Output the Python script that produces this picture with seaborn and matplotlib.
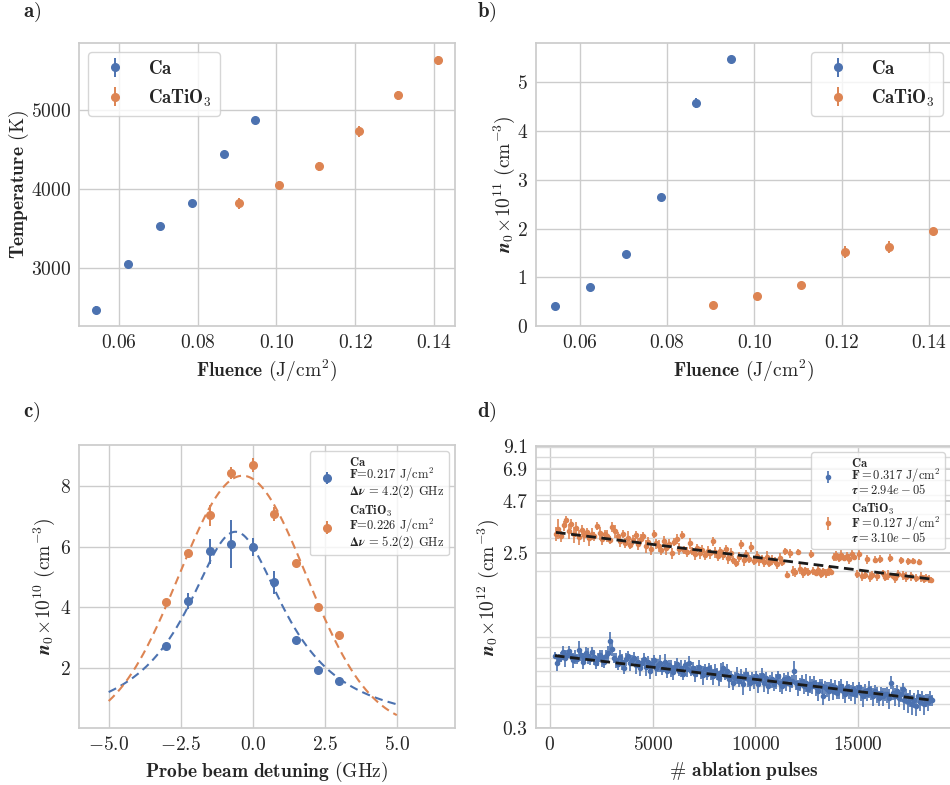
import numpy as np
import pandas as pd
import matplotlib
matplotlib.use("Agg")
import matplotlib.pyplot as plt
import matplotlib.ticker as mticker
import seaborn as sns

# ---------------- data ----------------
# Panels a, b: fluence scans
fluence_ca = [0.0543, 0.0624, 0.0705, 0.0785, 0.0866, 0.0946]
fluence_cto = [0.0905, 0.1006, 0.1107, 0.1208, 0.1308, 0.1409]
temp_ca = [2475, 3051, 3534, 3818, 4445, 4873]
temp_ca_err = [45, 35, 40, 30, 30, 25]
temp_cto = [3818, 4051, 4288, 4729, 5186, 5631]
temp_cto_err = [75, 55, 60, 75, 60, 55]
dens_ca = [0.41, 0.80, 1.48, 2.65, 4.57, 5.49]
dens_ca_err = [0.03, 0.04, 0.05, 0.06, 0.10, 0.06]
dens_cto = [0.43, 0.625, 0.845, 1.52, 1.62, 1.94]
dens_cto_err = [0.03, 0.04, 0.05, 0.12, 0.13, 0.05]

# Panel c: probe detuning spectra
detuning = [-3.0, -2.25, -1.5, -0.75, 0.0, 0.75, 1.5, 2.25, 3.0]
spec_ca = [2.72, 4.22, 5.85, 6.10, 5.99, 4.83, 2.94, 1.92, 1.58]
spec_ca_err = [0.10, 0.26, 0.41, 0.79, 0.30, 0.38, 0.10, 0.08, 0.08]
spec_cto = [4.17, 5.80, 7.04, 8.45, 8.70, 7.10, 5.47, 4.03, 3.09]
spec_cto_err = [0.10, 0.10, 0.35, 0.20, 0.24, 0.23, 0.08, 0.08, 0.08]
# fitted line shapes (Lorentzian for Ca, Gaussian for CaTiO3), FWHM in GHz
ca_fit_amp, ca_fit_center, ca_fit_fwhm = 6.5, -0.6, 4.2
cto_fit_amp, cto_fit_center, cto_fit_fwhm = 8.35, -0.35, 5.2
fit_range = (-5.0, 5.0)

# Panel d: density vs number of ablation pulses
ca_pulses = np.arange(250, 18587, 96)
ca_density = [
    0.72, 0.66, 0.69, 0.71, 0.75, 0.70, 0.73, 0.76, 0.72, 0.68,
    0.71, 0.69, 0.77, 0.73, 0.67, 0.70, 0.74, 0.72, 0.69, 0.75,
    0.71, 0.66, 0.69, 0.73, 0.70, 0.67, 0.72, 0.74, 0.86, 0.78,
    0.70, 0.68, 0.65, 0.71, 0.67, 0.62, 0.69, 0.72, 0.66, 0.68,
    0.70, 0.64, 0.67, 0.62, 0.66, 0.69, 0.63, 0.67, 0.60, 0.65,
    0.68, 0.62, 0.64, 0.66, 0.61, 0.63, 0.67, 0.60, 0.64, 0.62,
    0.59, 0.63, 0.65, 0.60, 0.62, 0.58, 0.64, 0.61, 0.66, 0.60,
    0.62, 0.58, 0.60, 0.63, 0.59, 0.57, 0.61, 0.58, 0.62, 0.59,
    0.56, 0.60, 0.58, 0.55, 0.59, 0.62, 0.57, 0.60, 0.54, 0.56,
    0.52, 0.55, 0.57, 0.53, 0.56, 0.51, 0.55, 0.58, 0.54, 0.52,
    0.55, 0.53, 0.56, 0.51, 0.54, 0.57, 0.52, 0.55, 0.50, 0.53,
    0.54, 0.51, 0.53, 0.56, 0.52, 0.50, 0.54, 0.52, 0.55, 0.51,
    0.53, 0.60, 0.52, 0.49, 0.51, 0.53, 0.50, 0.52, 0.48, 0.51,
    0.50, 0.52, 0.49, 0.47, 0.51, 0.50, 0.44, 0.49, 0.48, 0.47,
    0.50, 0.47, 0.49, 0.46, 0.48, 0.50, 0.47, 0.45, 0.49, 0.47,
    0.46, 0.48, 0.45, 0.47, 0.49, 0.46, 0.44, 0.47, 0.45, 0.48,
    0.46, 0.44, 0.47, 0.45, 0.43, 0.46, 0.44, 0.45, 0.45, 0.43,
    0.52, 0.46, 0.44, 0.47, 0.43, 0.45, 0.48, 0.42, 0.44, 0.41,
    0.43, 0.40, 0.42, 0.39, 0.44, 0.41, 0.43, 0.40, 0.42, 0.41,
    0.43, 0.42,
]
ca_err_pct = [
    4, 9, 7, 6, 8, 10, 6, 7, 5, 9,
    8, 6, 11, 7, 9, 6, 8, 10, 7, 6,
    9, 7, 8, 6, 10, 8, 7, 9, 12, 8,
    6, 9, 7, 8, 10, 7, 8, 6, 9, 7,
    8, 10, 7, 9, 6, 8, 11, 7, 9, 8,
    7, 9, 8, 10, 7, 6, 9, 8, 7, 10,
    9, 7, 8, 6, 10, 8, 7, 9, 8, 6,
    8, 10, 7, 9, 8, 11, 7, 8, 6, 9,
    10, 8, 7, 9, 11, 8, 6, 9, 10, 7,
    9, 8, 10, 7, 9, 12, 8, 7, 9, 10,
    8, 9, 7, 10, 8, 9, 11, 7, 9, 8,
    10, 8, 9, 7, 11, 9, 8, 10, 7, 9,
    8, 13, 9, 10, 8, 7, 9, 11, 8, 10,
    9, 8, 10, 11, 7, 9, 10, 8, 9, 11,
    8, 10, 9, 7, 11, 8, 9, 10, 8, 9,
    10, 9, 11, 8, 7, 10, 12, 9, 8, 10,
    9, 11, 8, 10, 9, 7, 11, 8, 10, 12,
    8, 9, 11, 7, 10, 9, 8, 11, 9, 12,
    10, 12, 9, 11, 8, 10, 9, 12, 8, 10,
    9, 7,
]
cto_pulses = np.arange(300, 18551, 125)
cto_density = [
    3.15, 3.35, 3.05, 3.48, 3.70, 3.25, 3.53, 3.12, 3.38, 3.02,
    3.30, 3.10, 3.22, 2.98, 3.15, 3.05, 3.46, 3.18, 2.95, 3.12,
    3.08, 2.92, 3.42, 3.25, 3.05, 2.88, 3.15, 2.82, 3.00, 2.75,
    2.92, 3.10, 2.78, 2.96, 3.07, 2.70, 2.85, 2.62, 3.15, 2.80,
    2.72, 2.58, 2.90, 2.66, 2.78, 2.48, 2.85, 2.95, 2.62, 3.10,
    2.60, 2.52, 2.80, 2.56, 2.45, 2.66, 2.50, 2.58, 2.42, 2.55,
    2.48, 2.87, 2.52, 2.40, 2.56, 2.44, 2.62, 2.36, 2.50, 2.29,
    2.22, 2.38, 2.77, 2.30, 2.45, 2.33, 2.68, 2.26, 2.40, 2.28,
    2.32, 2.24, 2.38, 2.21, 2.30, 2.26, 2.19, 2.34, 2.23, 2.55,
    1.92, 2.48, 2.00, 1.97, 2.52, 2.05, 1.95, 2.02, 1.99, 2.46,
    2.01, 1.96, 2.04, 1.93, 2.00, 1.95, 2.02, 1.98, 2.38, 2.42,
    2.36, 2.44, 2.35, 2.40, 2.33, 2.47, 2.38, 1.93, 2.45, 1.88,
    1.90, 2.31, 1.86, 1.92, 2.30, 1.88, 2.33, 1.95, 1.87, 1.91,
    2.36, 1.89, 1.85, 1.94, 2.28, 1.90, 1.86, 2.25, 1.88, 2.26,
    1.84, 2.24, 1.87, 1.83, 1.85, 1.82, 1.80,
]
cto_err_pct = [
    8, 12, 7, 6, 5, 9, 6, 10, 7, 9,
    6, 8, 5, 9, 7, 6, 5, 8, 7, 6,
    7, 5, 6, 8, 6, 7, 5, 6, 8, 5,
    6, 5, 7, 6, 5, 8, 6, 7, 5, 6,
    7, 6, 5, 8, 6, 7, 5, 6, 7, 5,
    5, 6, 7, 5, 6, 5, 7, 6, 5, 6,
    6, 5, 7, 6, 5, 6, 5, 7, 6, 5,
    5, 6, 5, 7, 6, 5, 6, 5, 7, 6,
    5, 6, 7, 5, 6, 5, 6, 7, 5, 4,
    4, 5, 6, 5, 4, 6, 5, 4, 5, 5,
    5, 4, 6, 5, 4, 5, 6, 4, 5, 6,
    5, 6, 4, 5, 6, 5, 4, 5, 6, 5,
    4, 5, 6, 5, 4, 6, 5, 4, 5, 6,
    5, 4, 6, 5, 4, 5, 6, 4, 5, 4,
    5, 4, 6, 5, 4, 5, 4,
]
# exponential decay fits n(N) = A exp(-tau N)
ca_decay_amp, ca_tau = 0.725, 2.94e-05
cto_decay_amp, cto_tau = 3.23, 3.10e-05
d_yticks = [0.3, 2.5, 4.7, 6.9, 9.1]

# ---------------- style ----------------
sns.set_theme(style="whitegrid", palette="deep")
plt.rcParams.update({
    "font.family": "serif",
    "font.serif": ["cmr10"],
    "mathtext.fontset": "cm",
    "axes.formatter.use_mathtext": True,
    "axes.unicode_minus": True,
    "xtick.labelsize": 14,
    "ytick.labelsize": 14,
    "axes.labelsize": 14,
    "legend.edgecolor": "0.8",
})
pal = sns.color_palette("deep")
c_ca, c_cto = pal[0], pal[1]

dens_sym = r"\mathbfit{n}_{\mathbf{0}}"

W, H = 950, 785
fig = plt.figure(figsize=(W / 100, H / 100), dpi=100)


def px_axes(left, top, right, bottom):
    return fig.add_axes([left / W, 1 - bottom / H, (right - left) / W, (bottom - top) / H])


ax_a = px_axes(79, 43, 455, 326)
ax_b = px_axes(536, 43, 952, 326)
ax_c = px_axes(79, 445, 455, 728)
ax_d = px_axes(536, 446, 951, 728)


def points(ax, x, y, e, color, label, ms=5.5, elw=1.4):
    ax.errorbar(x, y, yerr=e, fmt="o", color=color, ms=ms,
                elinewidth=elw, capsize=0, label=label, zorder=2)


def compact_legend(ax, spacing):
    leg = ax.legend(loc="upper right", fontsize=9, labelspacing=0.35,
                    handletextpad=0.8, borderpad=0.35)
    for t in leg.get_texts():
        t.set_linespacing(spacing)
    return leg


lab_ca = r"$\mathbf{Ca}$"
lab_cto = r"$\mathbf{CaTiO_3}$"

# ---- a) temperature vs fluence ----
points(ax_a, fluence_ca, temp_ca, temp_ca_err, c_ca, lab_ca)
points(ax_a, fluence_cto, temp_cto, temp_cto_err, c_cto, lab_cto)
ax_a.set_xlabel(r"$\mathbf{Fluence}$ (J/cm$^2$)")
ax_a.set_ylabel(r"$\mathbf{Temperature}$ (K)", labelpad=0)
ax_a.set_xticks([0.06, 0.08, 0.10, 0.12, 0.14])
ax_a.set_yticks([3000, 4000, 5000])
ax_a.legend(loc="upper left", fontsize=13.5)

# ---- b) density vs fluence ----
points(ax_b, fluence_ca, dens_ca, dens_ca_err, c_ca, lab_ca)
points(ax_b, fluence_cto, dens_cto, dens_cto_err, c_cto, lab_cto)
ax_b.set_ylim(bottom=0)
ax_b.set_xlabel(r"$\mathbf{Fluence}$ (J/cm$^2$)")
ax_b.set_ylabel(r"$%s\!\times\!10^{11}$ (cm$^{-3}$)" % dens_sym, labelpad=0)
ax_b.set_xticks([0.06, 0.08, 0.10, 0.12, 0.14])
ax_b.legend(loc="upper right", fontsize=13.5)

# ---- c) spectra with line-shape fits ----
det_grid = np.linspace(fit_range[0], fit_range[1], 300)
ca_hw = ca_fit_fwhm / 2
lor = ca_fit_amp / (1 + ((det_grid - ca_fit_center) / ca_hw) ** 2)
sig = cto_fit_fwhm / (2 * np.sqrt(2 * np.log(2)))
gau = cto_fit_amp * np.exp(-(det_grid - cto_fit_center) ** 2 / (2 * sig ** 2))
fits_c = pd.DataFrame({"detuning": det_grid, "ca": lor, "cto": gau})
sns.lineplot(data=fits_c, x="detuning", y="ca", ax=ax_c, color=c_ca,
             linestyle=(0, (4, 2.5)), linewidth=1.5, zorder=1)
sns.lineplot(data=fits_c, x="detuning", y="cto", ax=ax_c, color=c_cto,
             linestyle=(0, (4, 2.5)), linewidth=1.5, zorder=1)
points(ax_c, detuning, spec_ca, spec_ca_err, c_ca,
       lab_ca + "\n" + r"$\mathbf{F}$=0.217 J/cm$^2$" + "\n"
       + r"$\mathbf{Δ}\mathbfit{\nu}$ = 4.2(2) GHz")
points(ax_c, detuning, spec_cto, spec_cto_err, c_cto,
       lab_cto + "\n" + r"$\mathbf{F}$=0.226 J/cm$^2$" + "\n"
       + r"$\mathbf{Δ}\mathbfit{\nu}$ = 5.2(2) GHz")
ax_c.set_xlim(-6.03, 7.02)
ax_c.set_xticks([-5.0, -2.5, 0.0, 2.5, 5.0])
ax_c.set_yticks([2, 4, 6, 8])
ax_c.set_xlabel(r"$\mathbf{Probe\ beam\ detuning}$ (GHz)")
ax_c.set_ylabel(r"$%s\!\times\!10^{10}$ (cm$^{-3}$)" % dens_sym, labelpad=1.5)
compact_legend(ax_c, 0.82)

# ---- d) decay with ablation pulses ----
ca_density = np.asarray(ca_density)
cto_density = np.asarray(cto_density)
points(ax_d, ca_pulses, ca_density, ca_density * np.asarray(ca_err_pct) / 100,
       c_ca, lab_ca + "\n" + r"$\mathbf{F} = 0.317$ J/cm$^2$" + "\n"
       + r"$\mathbfit{\tau} = 2.94e-05$", ms=3, elw=1.2)
points(ax_d, cto_pulses, cto_density, cto_density * np.asarray(cto_err_pct) / 100,
       c_cto, lab_cto + "\n" + r"$\mathbf{F} = 0.127$ J/cm$^2$" + "\n"
       + r"$\mathbfit{\tau} = 3.10e-05$", ms=3, elw=1.2)
fit_d = pd.DataFrame({
    "ca_x": ca_pulses,
    "ca_y": ca_decay_amp * np.exp(-ca_tau * ca_pulses),
})
fit_d2 = pd.DataFrame({
    "cto_x": cto_pulses,
    "cto_y": cto_decay_amp * np.exp(-cto_tau * cto_pulses),
})
sns.lineplot(data=fit_d, x="ca_x", y="ca_y", ax=ax_d, color="k",
             linestyle=(0, (3.5, 2)), linewidth=2, zorder=3)
sns.lineplot(data=fit_d2, x="cto_x", y="cto_y", ax=ax_d, color="k",
             linestyle=(0, (3.5, 2)), linewidth=2, zorder=3)
ax_d.set_yscale("log")
ax_d.set_ylim(d_yticks[0], d_yticks[-1])
ax_d.yaxis.set_major_locator(mticker.FixedLocator(d_yticks))
ax_d.yaxis.set_major_formatter(mticker.FixedFormatter([f"{v:.1f}" for v in d_yticks]))
ax_d.yaxis.set_minor_locator(mticker.LogLocator(subs=range(2, 10)))
ax_d.yaxis.set_minor_formatter(mticker.NullFormatter())
ax_d.grid(which="major", axis="y", linewidth=1.4, color="0.8")
ax_d.grid(which="minor", axis="y", linewidth=1.0, color="0.85")
ax_d.set_xticks([0, 5000, 10000, 15000])
ax_d.set_xlabel(r"$\#$ $\mathbf{ablation\ pulses}$")
ax_d.set_ylabel(r"$%s\!\times\!10^{12}$ (cm$^{-3}$)" % dens_sym, labelpad=1)
compact_legend(ax_d, 0.82)

for ax in (ax_a, ax_b, ax_c, ax_d):
    ax.tick_params(length=0, pad=6)
    for s in ax.spines.values():
        s.set_color("0.8")

# panel tags
for tag, x, y in (("a)", 23, 12), ("b)", 477, 12), ("c)", 23, 412), ("d)", 477, 412)):
    fig.text(x / W, 1 - y / H, r"$\mathbf{%s}$" % tag, fontsize=15, va="center", ha="left")

fig.savefig("out.png", dpi=100)
